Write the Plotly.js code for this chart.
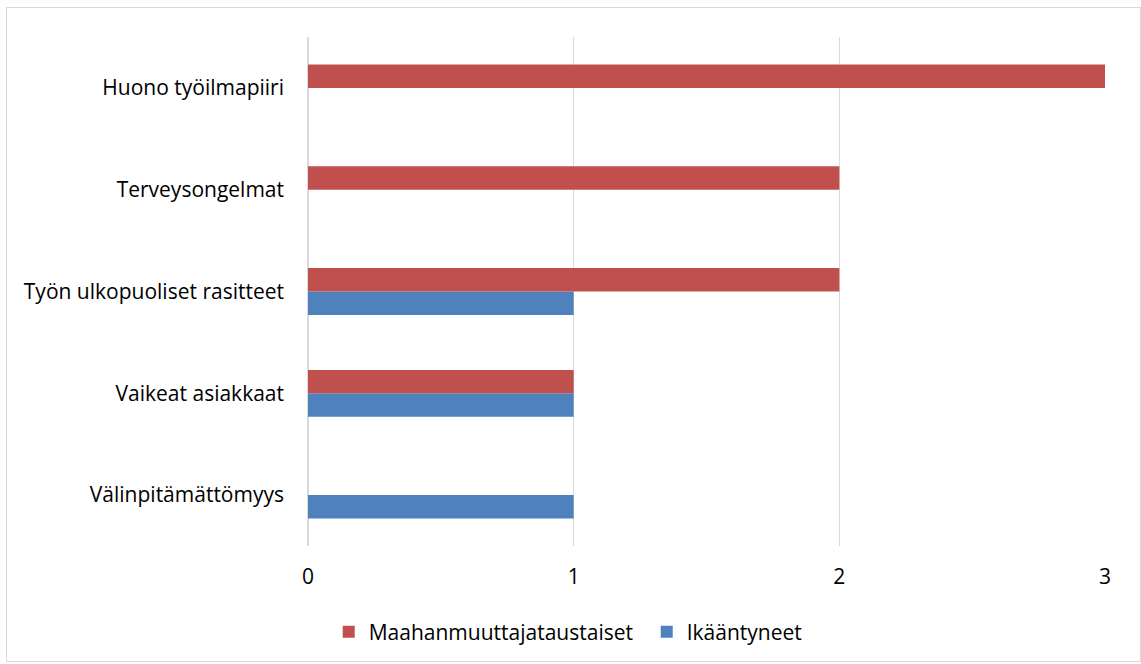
<!DOCTYPE html>
<html>
<head>
<meta charset="utf-8">
<script src="https://cdn.plot.ly/plotly-3.0.1.min.js"></script>
<style>
  html, body { margin: 0; padding: 0; background: #fff; }
  #wrap { position: relative; width: 1141px; height: 664px; }
  #chart { width: 1141px; height: 664px; }
  #frame { position: absolute; left: 6px; top: 7px; width: 1133px; height: 653px; border: 1px solid #D9D9D9; pointer-events: none; }
</style>
</head>
<body>
<div id="wrap"><div id="chart"></div><div id="frame"></div></div>
<script>
const categories = ["Välinpitämättömyys", "Vaikeat asiakkaat", "Työn ulkopuoliset rasitteet", "Terveysongelmat", "Huono työilmapiiri"];
const seriesNames = ["Maahanmuuttajataustaiset", "Ikääntyneet"];
const maahanmuuttajataustaiset = [0, 1, 2, 2, 3];
const ikaantyneet = [1, 1, 1, 0, 0];
const xTicks = [0, 1, 2, 3];

const font = "'Open Sans', 'Noto Sans', sans-serif";

const traces = [
  { type: "bar", orientation: "h", name: seriesNames[1], y: categories, x: ikaantyneet,
    marker: { color: "#4F81BD" }, hoverinfo: "x+y+name" },
  { type: "bar", orientation: "h", name: seriesNames[0], y: categories, x: maahanmuuttajataustaiset,
    marker: { color: "#C0504D" }, hoverinfo: "x+y+name" }
];

const layout = {
  width: 1141, height: 664,
  margin: { l: 308, r: 36, t: 37, b: 117 },
  paper_bgcolor: "#ffffff", plot_bgcolor: "#ffffff",
  font: { family: font, size: 21, color: "#000000" },
  barmode: "group", bargap: 0.54, bargroupgap: 0,
  xaxis: {
    range: [0, 3], tickvals: xTicks, ticktext: xTicks.map(String),
    showgrid: true, gridcolor: "#D9D9D9", gridwidth: 1.5,
    zeroline: true, zerolinecolor: "#D9D9D9", zerolinewidth: 1.5,
    showline: false, ticks: "", ticklabelstandoff: 16,
    tickfont: { family: font, size: 21, color: "#000000" }, fixedrange: true
  },
  yaxis: {
    type: "category", categoryorder: "array", categoryarray: categories,
    showgrid: false, zeroline: false, showline: false, ticks: "",
    ticklabelstandoff: 23,
    tickfont: { family: font, size: 21, color: "#000000" }, fixedrange: true
  },
  showlegend: true,
  legend: {
    orientation: "h", traceorder: "reversed",
    x: 0.026, xanchor: "left", y: -0.167, yanchor: "middle",
    font: { family: font, size: 21, color: "#000000" },
    itemwidth: 30, entrywidth: 273, entrywidthmode: "pixels",
    itemsizing: "constant", bgcolor: "rgba(0,0,0,0)"
  }
};

Plotly.newPlot("chart", traces, layout, { displayModeBar: false, staticPlot: true });
</script>
</body>
</html>
